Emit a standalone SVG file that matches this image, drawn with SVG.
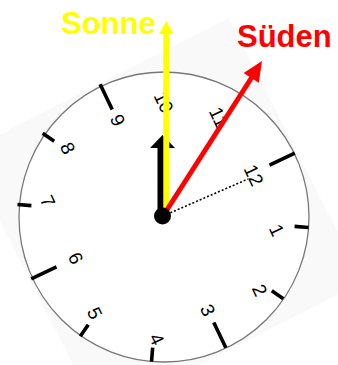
<svg xmlns="http://www.w3.org/2000/svg" width="338" height="365" viewBox="0 0 338 365">
<style>
.tick{stroke:#000;stroke-width:3.6;stroke-linecap:butt}
.num{font-family:"Liberation Sans",Arial,sans-serif;font-size:19px;fill:#000;text-anchor:middle}
.lbl{font-family:"Liberation Sans",Arial,sans-serif;font-size:31px;font-weight:bold}
</style>
<rect width="338" height="365" fill="#fff"/>
<g id="clock">
<rect x="16" y="69" width="296" height="296" fill="#f9f9f9" transform="rotate(63 164 217)"/>
<circle cx="164" cy="217" r="145" fill="#fff" stroke="#777" stroke-width="1.3"/>
<g transform="translate(163 216)">
<line class="tick" x1="0" y1="-118" x2="0" y2="-146" transform="rotate(64.5)"/>
<line class="tick" x1="0" y1="-132" x2="0" y2="-146" transform="rotate(94.5)"/>
<line class="tick" x1="0" y1="-132" x2="0" y2="-146" transform="rotate(124.5)"/>
<line class="tick" x1="0" y1="-118" x2="0" y2="-146" transform="rotate(154.5)"/>
<line class="tick" x1="0" y1="-132" x2="0" y2="-146" transform="rotate(184.5)"/>
<line class="tick" x1="0" y1="-132" x2="0" y2="-146" transform="rotate(214.5)"/>
<line class="tick" x1="0" y1="-118" x2="0" y2="-146" transform="rotate(244.5)"/>
<line class="tick" x1="0" y1="-132" x2="0" y2="-146" transform="rotate(274.5)"/>
<line class="tick" x1="0" y1="-132" x2="0" y2="-146" transform="rotate(304.5)"/>
<line class="tick" x1="0" y1="-118" x2="0" y2="-146" transform="rotate(334.5)"/>
</g>
<text class="num" transform="translate(254 175) rotate(64.5)" y="7">12</text>
<text class="num" transform="translate(277 230) rotate(64.5)" y="7">1</text>
<text class="num" transform="translate(260 290) rotate(64.5)" y="7">2</text>
<text class="num" transform="translate(208 310) rotate(64.5)" y="7">3</text>
<text class="num" transform="translate(157 339) rotate(64.5)" y="7">4</text>
<text class="num" transform="translate(95 313) rotate(64.5)" y="7">5</text>
<text class="num" transform="translate(76 258) rotate(64.5)" y="7">6</text>
<text class="num" transform="translate(48 201) rotate(64.5)" y="7">7</text>
<text class="num" transform="translate(68 148) rotate(64.5)" y="7">8</text>
<text class="num" transform="translate(118 120) rotate(64.5)" y="7">9</text>
<text class="num" transform="translate(164 102) rotate(64.5)" y="7">10</text>
<text class="num" transform="translate(219 117) rotate(64.5)" y="7">11</text>
</g>
<g id="connectors">
<g id="hour-hand">
<rect x="157.5" y="146" width="9" height="70" fill="#000"/>
<polygon points="162.5,135 150,148 175,148" fill="#000"/>
</g>
<line id="dotted" x1="163" y1="216" x2="248" y2="179" stroke="#000" stroke-width="1.6" stroke-dasharray="2 2"/>
<g id="sonne-arrow">
<line x1="166.3" y1="216" x2="166.3" y2="33" stroke="#ffff00" stroke-width="6"/>
<polygon points="166.3,21 159,34 173.6,34" fill="#ffff00"/>
</g>
<g id="sueden-arrow">
<line x1="163" y1="216" x2="252" y2="77" stroke="#ff0000" stroke-width="5"/>
<polygon points="262,61 258.8,82.7 243.6,73.1" fill="#ff0000"/>
</g>
<circle cx="162.5" cy="216" r="8.5" fill="#000"/>
</g>
<g id="sonne">
<text class="lbl" x="61" y="34" fill="#ffff00">Sonne</text>
</g>
<g id="sueden">
<text class="lbl" x="237" y="47" fill="#ff0000">Süden</text>
</g>
</svg>
